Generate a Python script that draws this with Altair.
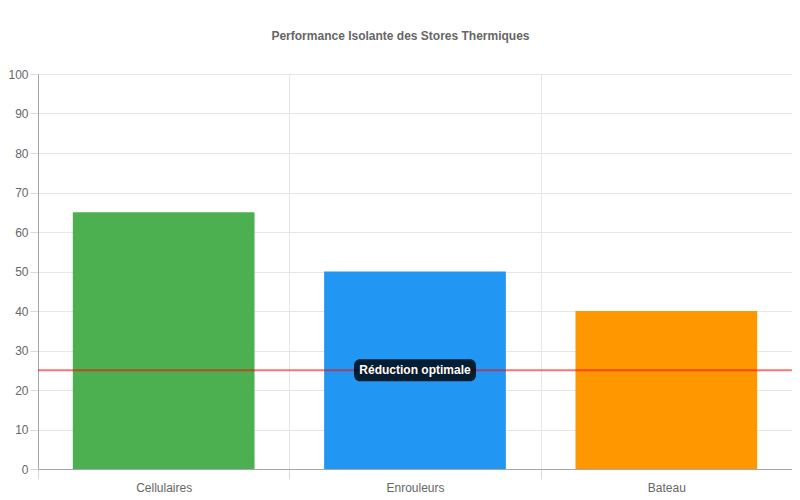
import pandas as pd
import altair as alt

# valeurs
categories = ["Cellulaires", "Enrouleurs", "Bateau"]
reduction = [65, 50, 40]
couleurs = ["#4CAF50", "#2196F3", "#FF9800"]
seuil = 25
seuil_label = "Réduction optimale"
seuil_categorie = "Enrouleurs"
y_ticks = list(range(0, 101, 10))

df = pd.DataFrame({"type": categories, "reduction": reduction})
annot = pd.DataFrame({"type": [seuil_categorie], "reduction": [seuil], "label": [seuil_label]})

font = "Liberation Sans"

x_axis = alt.Axis(
    labelAngle=0, tickBand="extent", tickSize=10, labelPadding=3,
    labelColor="#666666", labelFontSize=12, labelFont=font,
    tickColor="#d9d9d9", gridColor="#e6e6e6", domainColor="#a6a6a6", grid=True,
)
y_axis = alt.Axis(
    values=y_ticks, tickSize=8, labelPadding=2,
    labelColor="#666666", labelFontSize=12, labelFont=font,
    tickColor="#d9d9d9", gridColor="#e6e6e6", domainColor="#a6a6a6",
)
x_scale = alt.Scale(domain=categories, paddingInner=0, paddingOuter=0)
y_scale = alt.Scale(domain=[0, 100], nice=False)


def x_enc():
    return alt.X("type:N", sort=categories, title=None, scale=x_scale, axis=x_axis)


def y_enc():
    return alt.Y("reduction:Q", title=None, scale=y_scale, axis=y_axis)


bars = alt.Chart(df).mark_bar(width=alt.RelativeBandSize(0.723)).encode(
    x=x_enc(),
    y=y_enc(),
    color=alt.Color("type:N", sort=categories,
                    scale=alt.Scale(domain=categories, range=couleurs), legend=None),
)

ligne = alt.Chart(annot).mark_rule(color="#ff0000", strokeOpacity=0.55, strokeWidth=2).encode(
    y=y_enc()
)

boite = alt.Chart(annot).mark_rect(
    width=122, height=22, cornerRadius=6, fill="#000000", fillOpacity=0.8
).encode(x=x_enc(), y=y_enc())

texte = alt.Chart(annot).mark_text(
    color="white", fontWeight="bold", fontSize=12, font=font
).encode(x=x_enc(), y=y_enc(), text="label:N")

chart = alt.layer(bars, ligne, boite, texte).properties(
    width=754,
    height=395,
    autosize=alt.AutoSizeParams(type="none"),
    padding={"left": 30, "top": 66, "right": 0, "bottom": 25},
    title=alt.TitleParams(
        "Performance Isolante des Stores Thermiques",
        fontSize=12, fontWeight="bold", color="#666666", font=font,
        frame="bounds", anchor="middle", offset=25,
    ),
).configure_view(stroke=None)

chart.save("out.html", embed_options={"renderer": "svg", "actions": False})
